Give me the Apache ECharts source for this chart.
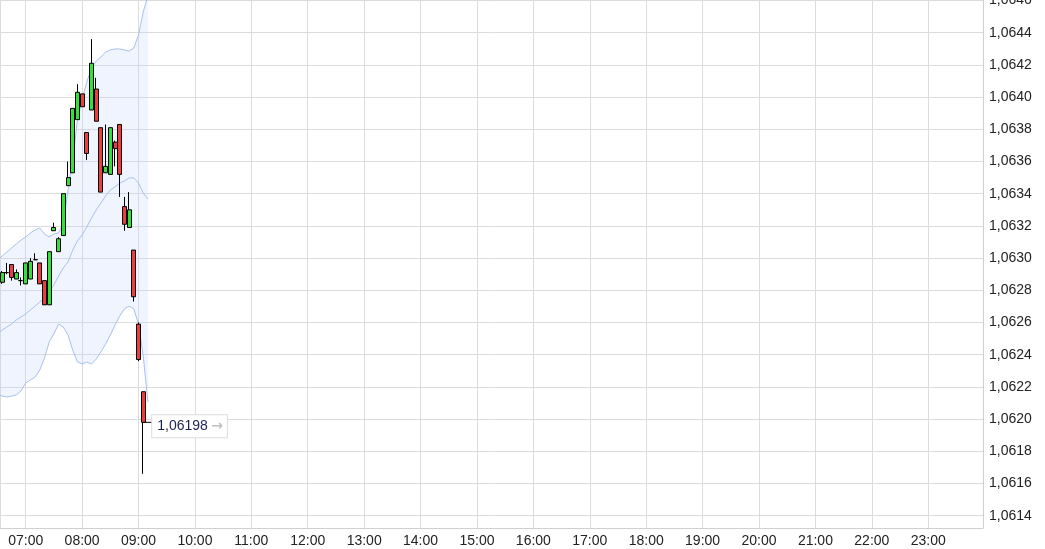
<!DOCTYPE html>
<html>
<head>
<meta charset="utf-8">
<script src="https://cdn.jsdelivr.net/npm/echarts@6/dist/echarts.min.js"></script>
<style>
html,body{margin:0;padding:0;background:#fff;}
#chart{width:1045px;height:549px;}
</style>
</head>
<body>
<div id="chart"></div>
<script>
// ---- data (5-minute candles) ----
const candleTimes = ['06:35','06:40','06:45','06:50','06:55','07:00','07:05','07:10','07:15','07:20','07:25','07:30','07:35','07:40','07:45','07:50','07:55','08:00','08:05','08:10','08:15','08:20','08:25','08:30','08:35','08:40','08:45','08:50','08:55','09:00','09:05'];
const openVals  = [1.06285,1.06291,1.06296,1.06287,1.06286,1.06284,1.06287,1.06299,1.06297,1.06286,1.06271,1.06317,1.06304,1.06314,1.06345,1.06353,1.06386,1.06402,1.06378,1.06392,1.06405,1.06381,1.06353,1.06352,1.06372,1.06383,1.06332,1.06319,1.06305,1.06259,1.06217];
const closeVals = [1.06291,1.06291,1.06288,1.06291,1.06286,1.06297,1.06298,1.06299,1.06284,1.06271,1.06304,1.06319,1.06312,1.06340,1.06350,1.06393,1.06403,1.06394,1.06365,1.06421,1.06385,1.06341,1.06357,1.06381,1.06368,1.06352,1.06321,1.06330,1.06276,1.06237,1.06198];
const lowVals   = [1.06284,1.06290,1.06286,1.06287,1.06283,1.06284,1.06287,1.06299,1.06284,1.06271,1.06271,1.06317,1.06304,1.06314,1.06345,1.06353,1.06386,1.06394,1.06361,1.06392,1.06385,1.06341,1.06353,1.06352,1.06357,1.06338,1.06317,1.06319,1.06273,1.06236,1.06166];
const highVals  = [1.06292,1.06297,1.06296,1.06293,1.06288,1.06297,1.06300,1.06303,1.06297,1.06286,1.06304,1.06322,1.06313,1.06340,1.06360,1.06393,1.06408,1.06402,1.06378,1.06436,1.06412,1.06381,1.06383,1.06381,1.06373,1.06383,1.06338,1.06341,1.06305,1.06260,1.06217];

// ---- Bollinger bands ----
const bandTimes = ['06:30','06:35','06:40','06:45','06:50','06:55','07:00','07:05','07:10','07:15','07:20','07:25','07:30','07:35','07:40','07:45','07:50','07:55','08:00','08:05','08:10','08:15','08:20','08:25','08:30','08:35','08:40','08:45','08:50','08:55','09:00','09:05','09:10'];
const upperBand  = [1.062988,1.063013,1.063038,1.063063,1.063088,1.063112,1.063131,1.063156,1.063175,1.063187,1.063150,1.063131,1.063150,1.063156,1.063218,1.063423,1.063609,1.063858,1.063982,1.064094,1.064181,1.064224,1.064249,1.064280,1.064293,1.064299,1.064299,1.064293,1.064286,1.064305,1.064386,1.064529,1.064628];
const middleBand = [1.062529,1.062553,1.062572,1.062591,1.062616,1.062634,1.062653,1.062678,1.062702,1.062727,1.062752,1.062789,1.062833,1.062889,1.062939,1.062976,1.063050,1.063106,1.063143,1.063193,1.063249,1.063299,1.063342,1.063386,1.063423,1.063442,1.063466,1.063479,1.063498,1.063498,1.063466,1.063404,1.063367];
const lowerBand  = [1.062156,1.062143,1.062137,1.062143,1.062150,1.062175,1.062224,1.062243,1.062261,1.062305,1.062379,1.062479,1.062529,1.062591,1.062572,1.062522,1.062429,1.062355,1.062342,1.062355,1.062342,1.062373,1.062417,1.062466,1.062522,1.062584,1.062640,1.062684,1.062702,1.062684,1.062591,1.062392,1.062106];

const prevClose = 1.062725;
const axisStart = '06:32:40';
const axisEnd = '23:58:15';
const yMin = 1.0613236;
const yMax = 1.0646031;
const yStep = 0.0002;

// ---- helpers ----
function toTs(s){
  const p = s.split(':').map(Number);
  return new Date(2023, 4, 5, p[0], p[1], p[2] || 0).getTime();
}
function pad(n){ return (n < 10 ? '0' : '') + n; }
function fmtPrice(v, d){ return v.toFixed(d).replace('.', ','); }

const candleData = candleTimes.map((t, i) => [toTs(t), openVals[i], closeVals[i], lowVals[i], highVals[i]]);
const upperData = bandTimes.map((t, i) => [toTs(t), upperBand[i]]);
const middleData = bandTimes.map((t, i) => [toTs(t), middleBand[i]]);
const lowerData = bandTimes.map((t, i) => [toTs(t), lowerBand[i]]);
const bandWidthData = bandTimes.map((t, i) => [toTs(t), upperBand[i] - lowerBand[i]]);

const lastIdx = candleTimes.length - 1;
const lastClose = closeVals[lastIdx];

const FONT = "'Liberation Sans', Arial, sans-serif";
const GRID = '#dcdcdc';
const BANDLINE = '#a9c0ee';

const chart = echarts.init(document.getElementById('chart'), null, {renderer: 'canvas'});
chart.setOption({
  animation: false,
  backgroundColor: '#ffffff',
  grid: {left: 0, right: 62, top: 0, bottom: 21, containLabel: false, outerBoundsMode: 'none'},
  xAxis: {
    type: 'time',
    min: toTs(axisStart),
    max: toTs(axisEnd),
    splitNumber: 17,
    axisLine: {show: true, lineStyle: {color: '#d0d0d0', width: 1}},
    axisTick: {show: false},
    splitLine: {show: true, lineStyle: {color: GRID, width: 1}},
    minorTick: {show: false},
    axisLabel: {
      color: '#222', fontSize: 14, fontFamily: FONT, margin: 6,
      formatter: function (v) { const d = new Date(v); return pad(d.getHours()) + ':' + pad(d.getMinutes()); }
    }
  },
  yAxis: {
    type: 'value',
    position: 'right',
    min: yMin,
    max: yMax,
    splitNumber: 16,
    axisLine: {show: true, lineStyle: {color: '#d0d0d0', width: 1}},
    axisTick: {show: false},
    splitLine: {show: true, lineStyle: {color: GRID, width: 1}},
    axisLabel: {
      color: '#222', fontSize: 14, fontFamily: FONT, margin: 6,
      showMinLabel: true, showMaxLabel: true,
      formatter: function (v) {
        const k = v / yStep;
        if (Math.abs(k - Math.round(k)) > 1e-4) return '';
        return fmtPrice(v, 4);
      }
    }
  },
  series: [
    {
      name: 'bandBase', type: 'line', stack: 'band', data: lowerData,
      symbol: 'none', lineStyle: {opacity: 0}, silent: true, z: 1
    },
    {
      name: 'bandFill', type: 'line', stack: 'band', data: bandWidthData,
      symbol: 'none', lineStyle: {opacity: 0},
      areaStyle: {color: 'rgba(190,210,250,0.35)', origin: 'auto'}, silent: true, z: 1
    },
    {
      name: 'upper', type: 'line', data: upperData, symbol: 'none',
      lineStyle: {color: BANDLINE, width: 1}, silent: true, z: 2
    },
    {
      name: 'middle', type: 'line', data: middleData, symbol: 'none',
      lineStyle: {color: BANDLINE, width: 1}, silent: true, z: 2
    },
    {
      name: 'lower', type: 'line', data: lowerData, symbol: 'none',
      lineStyle: {color: BANDLINE, width: 1}, silent: true, z: 2
    },
    {
      name: 'price', type: 'candlestick', data: candleData, barWidth: 4.5, z: 5,
      itemStyle: {
        color: '#35e03a', color0: '#ee3d3d',
        borderColor: '#000', borderColor0: '#000', borderWidth: 1
      },
      markLine: {
        silent: true, symbol: 'none', animation: false,
        label: {show: false},
        lineStyle: {color: '#777', width: 1, type: 'solid'},
        emphasis: {disabled: true},
        data: [{yAxis: prevClose}]
      },
      markPoint: {
        silent: true, animation: false,
        symbol: 'rect', symbolSize: [9, 1], symbolOffset: [4.5, 0],
        itemStyle: {color: '#000'},
        data: [{coord: [toTs(candleTimes[lastIdx]), lastClose], value: lastClose}],
        label: {
          show: true, position: 'right', distance: 0, offset: [0, 4],
          backgroundColor: '#fff', borderColor: '#dcdcdc', borderWidth: 1,
          padding: [3, 4, 3, 5],
          formatter: function () { return '{v|' + fmtPrice(lastClose, 5) + '} {a|→}'; },
          rich: {
            v: {color: '#1b2450', fontSize: 14, fontFamily: FONT, lineHeight: 16},
            a: {color: '#c0c0c0', fontSize: 14, fontWeight: 'bold', fontFamily: "'DejaVu Sans', sans-serif", lineHeight: 16}
          }
        }
      }
    }
  ]
});
</script>
</body>
</html>
